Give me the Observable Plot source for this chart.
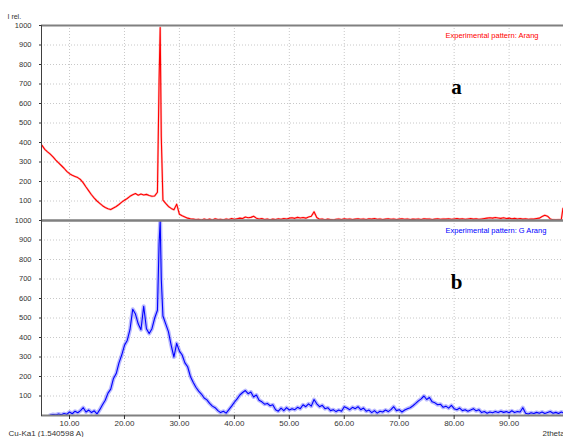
<!DOCTYPE html>
<html><head><meta charset="utf-8">
<script src="https://cdn.jsdelivr.net/npm/d3@7"></script>
<script src="https://cdn.jsdelivr.net/npm/@observablehq/plot@0.6"></script>
<style>body{margin:0;background:#fff} svg{overflow:visible}</style>
</head><body><div id="chart"></div>
<script>
const twoTheta = [
 5,5.5,6,6.5,7,7.5,8,8.5,9,9.5,
 10,10.5,11,11.5,12,12.5,13,13.5,14,14.5,
 15,15.5,16,16.5,17,17.5,18,18.5,19,19.5,
 20,20.5,21,21.5,22,22.5,23,23.5,24,24.5,
 25,25.5,26,26.3,26.5,26.7,27,27.5,28,28.5,29,29.5,
 30,30.5,31,31.5,32,32.5,33,33.5,34,34.5,
 35,35.5,36,36.5,37,37.5,38,38.5,39,39.5,
 40,40.5,41,41.5,42,42.5,43,43.5,44,44.5,
 45,45.5,46,46.5,47,47.5,48,48.5,49,49.5,
 50,50.5,51,51.5,52,52.5,53,53.5,54,54.5,
 55,55.5,56,56.5,57,57.5,58,58.5,59,59.5,
 60,60.5,61,61.5,62,62.5,63,63.5,64,64.5,
 65,65.5,66,66.5,67,67.5,68,68.5,69,69.5,
 70,70.5,71,71.5,72,72.5,73,73.5,74,74.5,
 75,75.5,76,76.5,77,77.5,78,78.5,79,79.5,
 80,80.5,81,81.5,82,82.5,83,83.5,84,84.5,
 85,85.5,86,86.5,87,87.5,88,88.5,89,89.5,
 90,90.5,91,91.5,92,92.5,93,93.5,94,94.5,
 95,95.5,96,96.5,97,97.5,98,98.5,99,99.5,
 99.8];
// pattern a: Arang (red)
const patternA = [
 385,365,352,340,326,310,296,282,268,252,
 240,232,226,220,210,193,172,152,132,115,
 100,88,76,67,60,56,64,72,82,94,
 104,113,124,132,138,130,136,131,134,128,
 124,126,145,720,990,430,105,88,72,62,55,84,
 32,24,18,12,9,7,5,6,3,8,
 4,7,3,9,5,6,4,8,5,10,
 6,9,12,10,18,14,16,22,12,8,
 10,5,8,4,7,5,9,6,10,8,
 12,14,11,16,13,15,12,18,22,45,
 15,6,8,4,7,5,3,6,8,5,
 9,6,8,5,7,9,6,8,5,9,
 7,10,6,8,5,7,9,6,8,5,
 7,9,6,8,5,7,6,8,5,9,
 7,8,5,7,9,6,8,7,9,6,
 8,10,7,9,6,8,10,7,9,6,
 8,10,12,14,12,15,13,11,14,10,
 12,9,11,8,10,7,9,6,8,7,
 10,12,20,27,22,8,4,3,4,5,
 62];
// pattern b: G Arang (blue)
const patternB = [
 null,null,null,2,5,3,8,4,10,6,
 18,9,22,14,25,40,18,28,15,24,
 8,30,55,78,115,135,190,215,270,310,
 360,385,440,545,520,470,440,560,445,420,
 445,500,540,880,1000,700,510,470,430,360,300,370,
 330,310,270,250,200,170,145,125,110,90,
 80,62,48,40,25,15,22,12,30,48,
 68,85,105,118,128,112,120,95,105,78,
 70,58,62,50,55,30,22,38,25,40,
 28,35,30,42,35,55,45,60,48,82,
 60,45,52,35,40,25,30,20,28,22,
 45,38,30,42,35,45,30,38,22,28,
 15,25,12,22,18,28,20,30,45,25,
 30,18,28,35,40,50,62,75,85,100,
 82,92,70,65,55,58,42,48,38,52,
 35,30,38,25,30,22,28,35,24,30,
 15,20,12,18,14,20,15,22,16,20,
 14,24,15,20,18,40,12,8,14,10,
 16,12,18,10,15,20,12,16,10,18,
 14];
const panels = ["a", "b"];
const legendLabels = ["Experimental pattern: Arang", "Experimental pattern: G Arang"];
const colors = ["#ff0000", "#0000ff"];
const haloColors = ["#ff5050", "#5050ff"];
const yTicks = [100,200,300,400,500,600,700,800,900,1000];
const xTicks = [10,20,30,40,50,60,70,80,90];
const yLabel = "I rel.";
const xLabel = "2theta";
const sourceLabel = "Cu-Ka1 (1.540598 A)";

const rows = [];
twoTheta.forEach((t, i) => {
  rows.push({t, I: patternA[i], panel: "a"});
  if (patternB[i] != null) rows.push({t, I: patternB[i], panel: "b"});
});

const sans = "Liberation Sans, Arial, sans-serif";
const chart = Plot.plot({
  width: 563, height: 437,
  marginTop: 24, marginBottom: 22, marginLeft: 41, marginRight: 0,
  style: {fontFamily: sans, fontSize: "8px", color: "#333", background: "#fff", overflow: "visible"},
  x: {domain: [4.9, 99.9]},
  y: {domain: [0, 1000]},
  fy: {domain: panels, padding: 0, axis: null},
  color: {domain: panels, range: colors},
  marks: [
    Plot.gridX(xTicks, {stroke: "#c8c8c8", strokeOpacity: 1, strokeDasharray: "1,2"}),
    Plot.gridY(yTicks, {stroke: "#c8c8c8", strokeOpacity: 1, strokeDasharray: "1,2"}),
    Plot.line(rows.filter(d => d.panel === "b"), {x: "t", y: "I", fy: "panel", stroke: haloColors[1], strokeWidth: 4, strokeOpacity: 0.4, clip: true}),
    Plot.line(rows.filter(d => d.panel === "a"), {x: "t", y: "I", fy: "panel", stroke: haloColors[0], strokeWidth: 2.2, strokeOpacity: 0.35, clip: true}),
    Plot.line(rows, {x: "t", y: "I", fy: "panel", stroke: "panel", strokeWidth: 1.1, clip: true}),
    Plot.ruleY([0, 1000], {stroke: "#808080", strokeWidth: 2}),
    Plot.frame({anchor: "left", stroke: "#404040"}),
    Plot.axisY(yTicks, {tickSize: 2, tickPadding: 8, fontSize: 7.5, tickFormat: d => String(d), label: null}),
    Plot.axisX(xTicks, {tickSize: 4, tickPadding: 1, tickFormat: d3.format(".2f"), label: null}),
    Plot.text([yLabel], {fy: ["a"], frameAnchor: "top-left", textAnchor: "start", dx: -34, dy: -11, fill: "#333", fontSize: 7}),
    Plot.text(legendLabels, {fy: panels, fill: panels, frameAnchor: "top-right", textAnchor: "start", dx: -118, dy: 7, fontSize: 7.5}),
    Plot.text(panels, {fy: panels, frameAnchor: "top-right", textAnchor: "middle", lineAnchor: "bottom", dx: -107, dy: 68, fontSize: 21, fontWeight: "bold", fontFamily: "Liberation Serif, Times New Roman, serif", fill: "#000"}),
    Plot.text([sourceLabel], {fy: ["b"], frameAnchor: "bottom-left", textAnchor: "start", dx: -33, dy: 20, fill: "#333"}),
    Plot.text([xLabel], {fy: ["b"], frameAnchor: "bottom-right", textAnchor: "start", dx: -21, dy: 20, fill: "#333"})
  ]
});
document.getElementById("chart").appendChild(chart);
</script>
</body></html>
